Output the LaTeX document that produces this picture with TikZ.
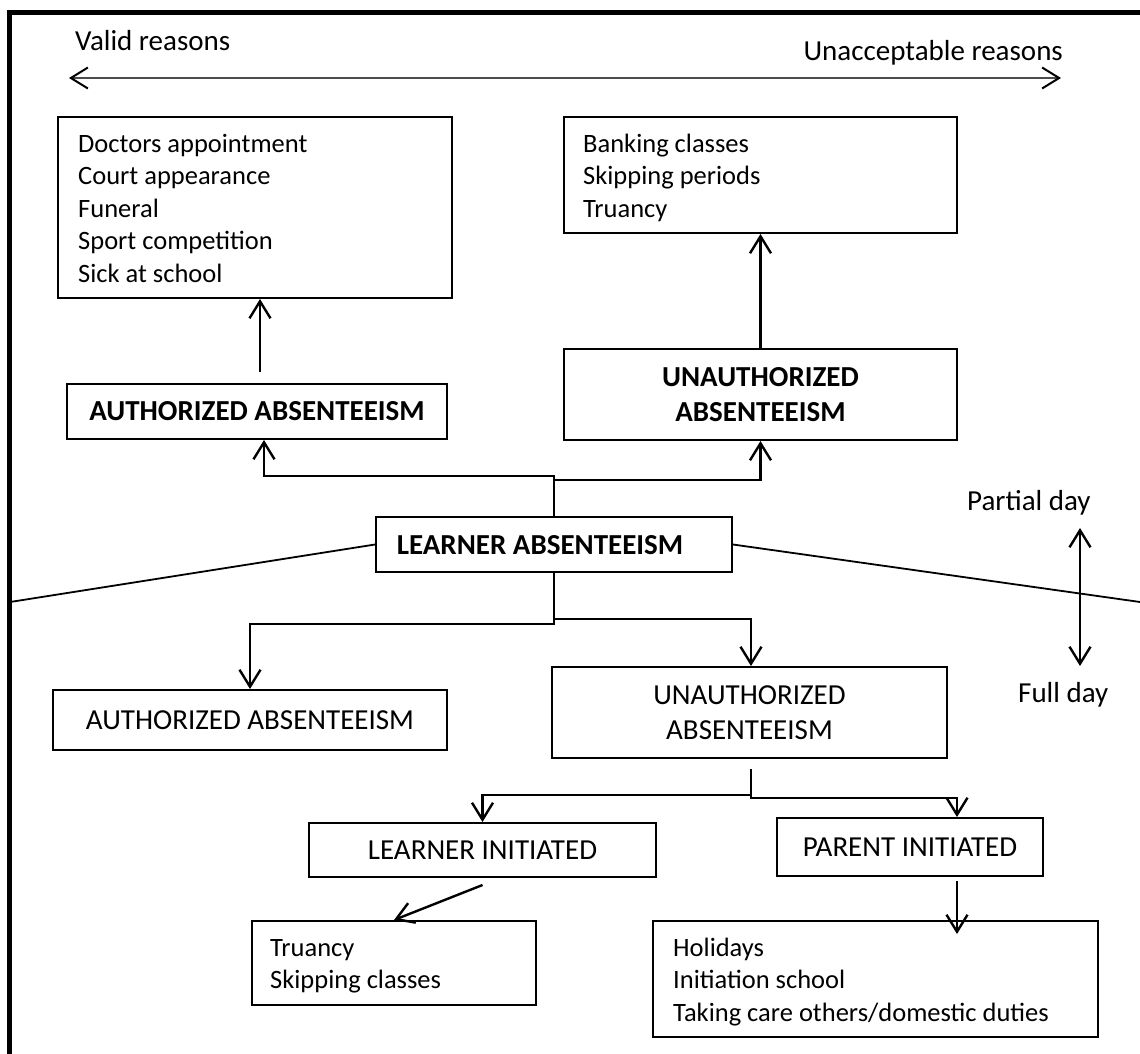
\documentclass[tikz,border=0pt]{standalone}
\usepackage{fontspec}
\setmainfont{Carlito}
\usetikzlibrary{arrows.meta,calc}
\newcommand\myfs{\fontsize{26.5}{32.4}\selectfont}
\newcommand\myfl{\fontsize{29}{35}\selectfont}
\begin{document}
\begin{tikzpicture}[x=1pt,y=-1pt,
  box/.style={draw, line width=2pt, inner sep=0pt},
  lst/.style={font=\myfs, inner sep=0pt, anchor=base west},
  lbl/.style={font=\myfl, inner sep=0pt},
  arr/.style={line width=2.4pt, -{Straight Barb[length=17pt,width=21pt]}},
  darr/.style={line width=2.4pt, {Straight Barb[length=17pt,width=21pt]}-{Straight Barb[length=17pt,width=21pt]}},
  thin/.style={line width=1.8pt}]
\useasboundingbox (0,0) rectangle (1140,1053);
\clip (0,0) rectangle (1140,1053);
% outer frame
\draw[line width=4.7pt] (9.7,1200) -- (9.7,12.5) -- (1200,12.5);
% top scale
\node[lbl, anchor=base west] (valid) at (75,50) {Valid reasons};
\node[lbl, anchor=base east] (unacc) at (1063,60) {Unacceptable reasons};
\coordinate (tl) at (69,78);
\coordinate (tr) at (1061,78);
\draw[line width=1.6pt, black!70, {Straight Barb[length=17pt,width=21pt,line width=2pt,color=black]}-{Straight Barb[length=17pt,width=21pt,line width=2pt,color=black]}] (tl) -- (tr);
% upper boxes
\node[box, minimum width=394pt, minimum height=181pt] (doc) at (255,207.5) {};
\node[lst] (doc1) at (78,152) {Doctors appointment};
\node[lst] (doc2) at (78,184.5) {Court appearance};
\node[lst] (doc3) at (78,217) {Funeral};
\node[lst] (doc4) at (78,249.5) {Sport competition};
\node[lst] (doc5) at (78,282) {Sick at school};
\node[box, minimum width=393pt, minimum height=116pt] (bank) at (760.5,175) {};
\node[lst] (bank1) at (583,152) {Banking classes};
\node[lst] (bank2) at (583,184.5) {Skipping periods};
\node[lst] (bank3) at (583,217) {Truancy};
\node[box, minimum width=380pt, minimum height=55pt, font=\myfl\bfseries] (authB) at (257,411.5) {AUTHORIZED ABSENTEEISM};
\node[box, minimum width=393pt, minimum height=91pt, font=\myfl\bfseries, align=center] (unauthB) at (760.5,394.5) {UNAUTHORIZED\\ABSENTEEISM};
% learner
\node[box, minimum width=356pt, minimum height=55pt] (learner) at (554,544.5) {};
\node[lbl, font=\myfl\bfseries] (learnert) at (540,545) {LEARNER ABSENTEEISM};
% lower boxes
\node[box, minimum width=394pt, minimum height=60pt, font=\myfl] (authL) at (250,720) {AUTHORIZED ABSENTEEISM};
\node[box, minimum width=395pt, minimum height=91pt, font=\myfl, align=center] (unauthL) at (749.5,712.5) {UNAUTHORIZED\\ABSENTEEISM};
\node[box, minimum width=347pt, minimum height=54pt, font=\myfl] (linit) at (482.5,850) {LEARNER INITIATED};
\node[box, minimum width=266pt, minimum height=58pt, font=\myfl] (pinit) at (910,847) {PARENT INITIATED};
\node[box, minimum width=284pt, minimum height=84pt] (trua) at (394,963) {};
\node[lst] (trua1) at (270,956) {Truancy};
\node[lst] (trua2) at (270,988.5) {Skipping classes};
\node[box, minimum width=445pt, minimum height=116pt] (hol) at (875.5,979) {};
\node[lst] (hol1) at (673,956) {Holidays};
\node[lst] (hol2) at (673,988.5) {Initiation school};
\node[lst] (hol3) at (673,1021) {Taking care others/domestic duties};
% side labels
\node[lbl, anchor=base west] (partial) at (967,510) {Partial day};
\node[lbl, anchor=base west] (full) at (1018,702) {Full day};
\coordinate (pd1) at (1080,528);
\coordinate (pd2) at (1080,666);
\draw[darr] (pd1) -- (pd2);
% diagonals
\coordinate (dl) at (10,602);
\coordinate (dr) at (1150,603.4);
\draw[thin] (dl) -- (learner.west);
\draw[thin] (learner.east) -- (dr);
% connectors
\coordinate (a1) at (260,372);
\draw[arr] (a1) -- (a1 |- doc.south);
\draw[arr] (unauthB.north) -- (bank.south);
\draw[arr] (learner.north) -- ++(0,-40) -| ($(authB.south)+(7,0)$);
\draw[arr] (learner.north) -- ++(0,-36) -| (unauthB.south);
\draw[arr] (learner.south) -- ++(0,46) -| ($(unauthL.north)+(1.5,0)$);
\draw[arr] (learner.south) -- ++(0,51) -| (authL.north);
\coordinate (u0) at ($(unauthL.south)+(1.5,10)$);
\draw[arr] (u0) -- ++(0,26) -| (linit.north);
\draw[arr] (u0) -- ++(0,29) -| ($(pinit.north)+(47,0)$);
\draw[arr] ($(linit.south)+(0,7)$) -- (trua.north);
\coordinate (p0) at ($(pinit.south)+(47,4)$);
\draw[arr] (p0) -- ++(0,53);
\end{tikzpicture}
\end{document}
